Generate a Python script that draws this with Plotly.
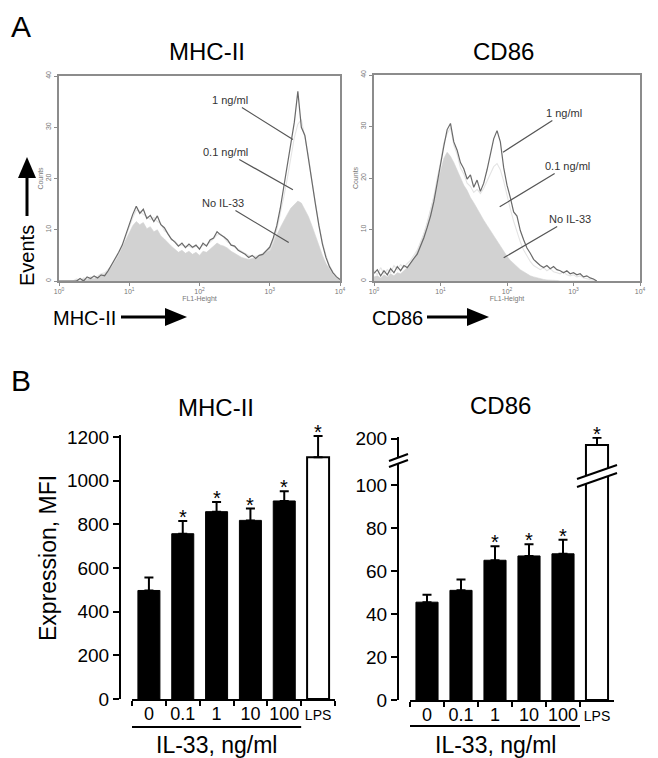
import plotly.graph_objects as go

# The page body has an 8px margin, so the figure is drawn 8px in from the
# top-left corner of the 658x758 window; size and coordinates compensate.
OFF = 8
W, H = 658 - OFF, 758 - OFF
FONT = "Liberation Sans, Arial, sans-serif"


def px(x):
    return (x - OFF) / W


def py(y):
    return 1 - (y - OFF) / H


# ---------------- Panel A: flow cytometry histograms ----------------
# channel grid in log10(FL1-Height) units, step 0.05
mhc_logfl1 = [i / 20 for i in range(81)]
cd86_logfl1 = [i / 20 for i in range(68)]

mhc_1ng = [0, 0, 0, 0, 0, 0, 0.5, 0, 0.8, 0.5,
           1.0, 0.6, 1.2, 1.0, 2.0, 3.2, 4.3, 5.6, 7.0, 9.2,
           11.0, 13.0, 14.6, 13.2, 14.0, 12.2, 12.8, 11.6, 12.7, 11.0,
           10.4, 9.2, 8.2, 7.6, 6.8, 7.4, 6.5, 7.2, 6.6, 7.0,
           6.2, 7.4, 6.8, 8.0, 8.4, 9.6, 9.0, 8.6, 8.0, 7.0,
           6.8, 6.0, 5.6, 5.2, 4.6, 5.0, 4.4, 5.0, 5.2, 6.0,
           6.6, 8.4, 10.8, 14.2, 18.4, 22.6, 27.0, 31.0, 37.0, 30.0,
           28.4, 23.6, 19.4, 15.0, 10.8, 7.2, 4.6, 2.8, 1.6, 0.8,
           0.3]
mhc_01ng = [0, 0, 0, 0, 0, 0.4, 0, 0.6, 0.4, 0.8,
            0.6, 1.0, 1.4, 1.6, 2.2, 3.0, 4.0, 5.2, 6.8, 8.8,
            10.6, 12.4, 13.8, 13.6, 13.0, 12.6, 12.0, 12.4, 11.6, 11.2,
            9.8, 9.4, 8.0, 7.8, 7.0, 7.0, 6.8, 6.8, 6.4, 6.8,
            6.4, 7.0, 7.0, 7.6, 8.2, 9.0, 9.2, 8.4, 7.6, 7.2,
            6.6, 6.2, 5.8, 5.4, 5.0, 4.8, 4.8, 5.0, 5.4, 5.8,
            6.0, 7.6, 10.0, 13.0, 16.4, 20.0, 24.0, 28.0, 30.6, 31.5,
            28.0, 24.4, 19.6, 15.2, 11.0, 7.6, 5.0, 3.0, 1.8, 0.9,
            0.3]
mhc_none = [0, 0, 0, 0, 0, 0.3, 0, 0.5, 0.3, 0.6,
            0.5, 0.8, 1.0, 1.4, 2.2, 3.0, 4.0, 5.2, 6.6, 8.2,
            9.6, 10.8, 11.6, 11.0, 11.4, 10.2, 10.6, 9.6, 10.0, 8.8,
            8.2, 7.4, 6.8, 6.2, 5.6, 6.0, 5.4, 5.8, 5.2, 5.6,
            5.0, 5.8, 5.6, 6.2, 6.8, 7.4, 7.0, 6.8, 6.4, 5.8,
            5.4, 5.0, 4.6, 4.4, 4.2, 4.4, 4.4, 4.8, 5.4, 6.0,
            6.8, 7.8, 9.0, 10.4, 11.8, 13.0, 14.2, 15.0, 15.6, 15.2,
            14.0, 12.6, 10.8, 8.8, 6.8, 5.0, 3.4, 2.2, 1.2, 0.6,
            0.2]

cd86_1ng = [1.5, 2.2, 1.0, 2.0, 1.2, 2.4, 1.6, 2.8, 2.0, 3.0,
            2.6, 3.6, 4.4, 5.2, 6.8, 8.4, 10.4, 12.6, 15.4, 19.0,
            23.4, 26.2, 29.4, 30.6, 27.0, 25.4, 23.0, 21.8, 19.8, 20.6,
            18.2, 19.6, 17.4, 19.0, 21.6, 24.8, 27.6, 29.2, 27.0, 22.0,
            18.6, 16.2, 13.4, 12.6, 9.8, 8.0, 6.4, 5.4, 4.2, 3.6,
            3.0, 2.6, 3.0, 2.4, 2.8, 2.2, 2.0, 1.6, 2.0, 1.4,
            1.6, 1.2, 1.4, 0.8, 1.0, 0.6, 0.4, 0]
cd86_01ng = [2.0, 1.2, 2.6, 1.4, 2.2, 1.6, 3.0, 2.2, 3.2, 2.6,
             3.4, 4.0, 5.0, 6.0, 7.6, 9.2, 11.2, 13.6, 16.4, 20.0,
             23.0, 26.8, 28.6, 29.8, 26.4, 24.6, 22.0, 20.8, 19.0, 18.4,
             17.2, 17.8, 17.0, 18.0, 19.4, 21.0, 22.2, 22.8, 21.6, 19.4,
             16.4, 14.0, 11.6, 9.4, 7.6, 6.0, 4.8, 3.8, 3.0, 2.6,
             2.2, 2.6, 2.0, 2.4, 1.8, 1.6, 1.4, 1.8, 1.2, 1.0,
             1.2, 0.8, 1.0, 0.6, 0.4, 0.3, 0.2, 0]
cd86_none = [0.8, 1.0, 0.6, 1.2, 0.8, 1.4, 1.0, 1.6, 1.4, 2.0,
             2.6, 3.4, 4.4, 5.8, 7.4, 9.2, 11.4, 14.0, 16.6, 19.2,
             21.6, 23.8, 25.0, 24.2, 23.0, 21.6, 20.2, 18.6, 17.6, 16.2,
             15.2, 14.0, 12.8, 11.8, 10.8, 9.8, 8.6, 7.6, 6.6, 5.6,
             4.8, 4.0, 3.4, 2.8, 2.2, 1.8, 1.4, 1.0, 0.8, 0.6,
             0.4, 0.3, 0.2, 0.2, 0.1, 0.1, 0, 0, 0, 0,
             0, 0, 0, 0, 0, 0, 0, 0]

hist_tickvals = [1, 10, 100, 1000, 10000]
hist_ticktext = ["10<sup>0</sup>", "10<sup>1</sup>", "10<sup>2</sup>",
                 "10<sup>3</sup>", "10<sup>4</sup>"]
count_ticks = [0, 10, 20, 30, 40]
curve_labels = ["1 ng/ml", "0.1 ng/ml", "No IL-33"]
# label anchor points on the curves (log10 FL1, counts)
mhc_label_pts = [(3.33, 27.6), (3.33, 17.8), (3.27, 7.5)]
cd86_label_pts = [(1.94, 25.0), (1.89, 14.4), (1.95, 4.5)]

# ---------------- Panel B: bar charts ----------------
categories = ["0", "0.1", "1", "10", "100", "LPS"]
tick_labels = ["0", "0.1", "1", "10", "100",
               "<span style='font-size:14px'>LPS</span>"]
mhc_mean = [497, 757, 858, 818, 907, 1107]
mhc_sem = [60, 58, 44, 54, 44, 97]
mhc_sig = [False, True, True, True, True, True]
cd86_mean = [45.5, 51.0, 65.0, 67.0, 68.0, 185.0]
cd86_sem = [3.5, 5.0, 6.5, 5.5, 6.5, 17.0]
cd86_sig = [False, False, True, True, True, True]
bar_fill = ["black", "black", "black", "black", "black", "white"]
bar_edge = [1, 1, 1, 1, 1, 2]

fig = go.Figure()

dark_col = "#6a6a6a"
light_col = "#e4e4e4"
fill_col = "#d2d2d2"


def add_hist(xa, ya, logx, none, c01, c1):
    xs = [10 ** v for v in logx]
    fig.add_trace(go.Scatter(x=xs, y=none, mode="lines", fill="tozeroy",
                             fillcolor=fill_col,
                             line=dict(color=fill_col, width=0.6),
                             xaxis=xa, yaxis=ya, hoverinfo="skip"))
    fig.add_trace(go.Scatter(x=xs, y=c01, mode="lines",
                             line=dict(color=light_col, width=1.1),
                             xaxis=xa, yaxis=ya, hoverinfo="skip"))
    fig.add_trace(go.Scatter(x=xs, y=c1, mode="lines",
                             line=dict(color=dark_col, width=1.2),
                             xaxis=xa, yaxis=ya, hoverinfo="skip"))


add_hist("x", "y", mhc_logfl1, mhc_none, mhc_01ng, mhc_1ng)
add_hist("x2", "y2", cd86_logfl1, cd86_none, cd86_01ng, cd86_1ng)

ann = []

# bars MHC-II
fig.add_trace(go.Bar(
    x=categories, y=mhc_mean, xaxis="x3", yaxis="y3",
    marker=dict(color=bar_fill, line=dict(color="black", width=bar_edge)),
    error_y=dict(type="data", array=mhc_sem, arrayminus=[0] * 6,
                 symmetric=False, color="black", thickness=2, width=4.5)))


def star(xa, ya, idx, val):
    # idx: category index on the category axis
    ann.append(dict(x=idx, y=val, xref=xa, yref=ya, text="*",
                    showarrow=False, xanchor="center", yanchor="middle",
                    yshift=4,
                    font=dict(size=20, color="black", family=FONT)))


for i, (m, e, s) in enumerate(zip(mhc_mean, mhc_sem, mhc_sig)):
    if s:
        star("x3", "y3", i, m + e)

# bars CD86 (broken axis: lower y4, upper y5)
for ya in ["y4", "y5"]:
    fig.add_trace(go.Bar(
        x=categories, y=cd86_mean, xaxis="x4", yaxis=ya,
        marker=dict(color=bar_fill, line=dict(color="black", width=bar_edge)),
        error_y=dict(type="data", array=cd86_sem, arrayminus=[0] * 6,
                     symmetric=False, color="black", thickness=2, width=4.5)))
LOW_TOP = 110.7
for i, (m, e, s) in enumerate(zip(cd86_mean, cd86_sem, cd86_sig)):
    if s:
        star("x4", "y4" if m + e <= LOW_TOP else "y5", i, m + e)

hist_axis_common = dict(showline=True, mirror=True, linecolor="#8c8c8c",
                        linewidth=1.5, showgrid=False, zeroline=False,
                        automargin=False,
                        ticks="outside", ticklen=3, tickcolor="#8c8c8c",
                        tickfont=dict(size=7, color="#777", family=FONT))
hx = dict(type="log", range=[0, 4], tickvals=hist_tickvals,
          ticktext=hist_ticktext, tickangle=0,
          title=dict(text="FL1-Height", font=dict(size=7, color="#777"),
                     standoff=1), **hist_axis_common)
hy = dict(range=[0, 40], tickvals=count_ticks, tickangle=-90,
          title=dict(text="Counts", font=dict(size=7, color="#777"),
                     standoff=1), **hist_axis_common)

bar_x_common = dict(type="category", range=[-0.5, 5.5], tickson="boundaries",
                    tickvals=categories, ticktext=tick_labels, tickangle=0,
                    showline=True, linecolor="black", linewidth=2,
                    ticks="outside", ticklen=5, tickwidth=1.5,
                    tickcolor="black", showgrid=False, zeroline=False,
                    automargin=False, ticklabelstandoff=-3,
                    tickfont=dict(size=18, color="black", family=FONT))
bar_y_common = dict(showline=True, linecolor="black", linewidth=2,
                    ticks="outside", ticklen=6, tickwidth=1.5,
                    tickcolor="black", showgrid=False, zeroline=False,
                    automargin=False,
                    tickfont=dict(size=19, color="black", family=FONT))

fig.update_layout(
    width=W, height=H, margin=dict(l=0, r=0, t=0, b=0, autoexpand=False),
    paper_bgcolor="white", plot_bgcolor="white", showlegend=False,
    bargap=0.35, font=dict(family=FONT, color="black"),
    xaxis=dict(domain=[px(59), px(340)], anchor="y", **hx),
    yaxis=dict(domain=[py(281), py(76)], anchor="x", **hy),
    xaxis2=dict(domain=[px(374), px(640)], anchor="y2", **hx),
    yaxis2=dict(domain=[py(281), py(75)], anchor="x2", **hy),
    xaxis3=dict(domain=[px(132), px(335)], anchor="y3", **bar_x_common),
    yaxis3=dict(domain=[py(699), py(434.8)], anchor="free", position=px(120),
                range=[0, 1210], tickvals=[0, 200, 400, 600, 800, 1000, 1200],
                **bar_y_common),
    xaxis4=dict(domain=[px(410), px(614)], anchor="y4", **bar_x_common),
    yaxis4=dict(domain=[py(700), py(462)], anchor="free", position=px(398),
                range=[0, LOW_TOP], tickvals=[0, 20, 40, 60, 80, 100],
                **bar_y_common),
    yaxis5=dict(domain=[py(462), py(437)], anchor="free", position=px(398),
                range=[145.4, 204], tickvals=[200], **bar_y_common),
)


def txt(x, y, s, size, **kw):
    d = dict(x=px(x), y=py(y), xref="paper", yref="paper", text=s,
             xanchor="center", yanchor="middle",
             showarrow=False, font=dict(size=size, color="black", family=FONT))
    d.update(kw)
    ann.append(d)


txt(21, 27, "A", 30)
txt(21, 380, "B", 30)
txt(207, 52, "MHC-II", 24)
txt(503, 52, "CD86", 24)
txt(216, 407, "MHC-II", 24)
txt(500, 406, "CD86", 24)
txt(27, 256, "Events", 20, textangle=-90)
txt(84, 318, "MHC-II", 20)
txt(397, 318, "CD86", 20)
txt(48, 558, "Expression, MFI", 23, textangle=-90)

# curve labels with leader lines
mhc_text_pos = [(230, 100), (226, 152), (223, 203)]
cd86_text_pos = [(564, 113), (567, 166), (570, 219)]
mhc_origin = (59, 281, 70.25, 5.125)
cd86_origin = (374, 281, 66.5, 5.15)
for (xa, ya, pts, tpos, org) in [
        ("x", "y", mhc_label_pts, mhc_text_pos, mhc_origin),
        ("x2", "y2", cd86_label_pts, cd86_text_pos, cd86_origin)]:
    for lab, (lx, ly), (tx, ty) in zip(curve_labels, pts, tpos):
        ppx = org[0] + lx * org[2]
        ppy = org[1] - ly * org[3]
        ann.append(dict(x=lx, y=ly, xref=xa, yref=ya, text=lab,
                        showarrow=True, arrowhead=0, arrowwidth=1.2,
                        arrowcolor="#555", ax=tx - ppx, ay=ty - ppy,
                        font=dict(size=11, color="#333", family=FONT)))

# IL-33 group labels
for xa in ["x3", "x4"]:
    ann.append(dict(x=2, y=py(745), xref=xa, yref="paper",
                    xanchor="center", yanchor="middle",
                    text="IL-33, ng/ml", showarrow=False,
                    font=dict(size=23, color="black", family=FONT)))
fig.update_layout(annotations=ann)

shapes = []
for xa, yy in [("x3", 727), ("x4", 726)]:
    shapes.append(dict(type="line", xref=xa, yref="paper", x0=-0.5, x1=4.5,
                       y0=py(yy), y1=py(yy), line=dict(color="black", width=2)))


def seg(x0, y0, x1, y1, w=3, color="black"):
    shapes.append(dict(type="line", xref="paper", yref="paper",
                       x0=px(x0), y0=py(y0), x1=px(x1), y1=py(y1),
                       line=dict(color=color, width=w)))


def poly(pts, fill="black"):
    path = "M " + " L ".join(f"{px(a):.5f},{py(b):.5f}" for a, b in pts) + " Z"
    shapes.append(dict(type="path", xref="paper", yref="paper", path=path,
                       fillcolor=fill, line=dict(width=0), layer="above"))


# Events arrow (vertical)
seg(27, 216, 27, 176)
poly([(27, 157), (18, 178), (36, 178)])
# MHC-II arrow
seg(121, 317, 166, 317)
poly([(187, 317), (165, 308), (165, 326)])
# CD86 arrow
seg(427, 317, 468, 317)
poly([(489, 317), (467, 308), (467, 326)])

# axis break on CD86 y-axis
poly([(389, 461), (408, 454), (408, 460), (389, 467)], fill="white")
seg(389, 461, 408, 454, w=2)
seg(389, 467, 408, 460, w=2)
# break across LPS bar
poly([(577, 479), (617, 465), (617, 473), (577, 487)], fill="white")
seg(577, 479, 617, 465, w=2)
seg(577, 487, 617, 473, w=2)

fig.update_layout(shapes=shapes)
fig.write_html("out.html")
